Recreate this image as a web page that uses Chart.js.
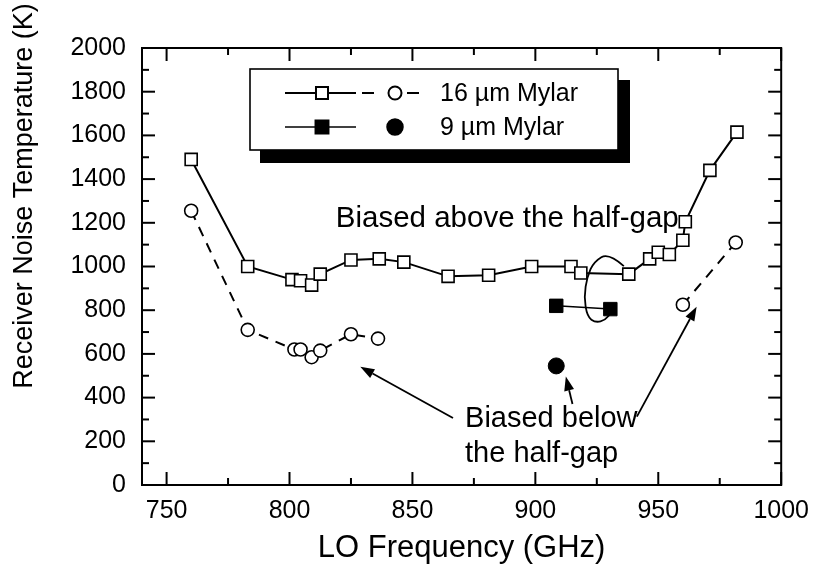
<!DOCTYPE html>
<html>
<head>
<meta charset="utf-8">
<script src="https://cdn.jsdelivr.net/npm/chart.js@4/dist/chart.umd.min.js"></script>
<style>
  html, body { margin: 0; padding: 0; background: #fff; }
  #wrap { width: 820px; height: 576px; }
</style>
</head>
<body>
<div id="wrap"><canvas id="noiseChart" width="820" height="576"></canvas></div>
<script>
// 16 um Mylar, biased above the half-gap (open squares)
const sqFreq16 = [760, 783, 801, 804.5, 809, 812.5, 825, 836.5, 846.5, 864.5, 881, 898.5, 914.5, 918.5, 938, 946.5, 950, 954.5, 960, 961, 971, 982];
const sqTemp16 = [1490, 1000, 940, 935, 915, 965, 1030, 1035, 1020, 955, 960, 1000, 1000, 970, 965, 1035, 1065, 1055, 1120, 1205, 1440, 1615];

// 16 um Mylar, biased below the half-gap (open circles), two separate runs
const circFreqLow = [760, 783, 802, 804.5, 809, 812.5, 825, 836];
const circTempLow = [1255, 710, 620, 620, 585, 615, 690, 670];
const circFreqHigh = [960, 981.5];
const circTempHigh = [825, 1110];

// 9 um Mylar
const sqFreq9 = [908.5, 930.5];
const sqTemp9 = [820, 805];
const circFreq9 = [908.5];
const circTemp9 = [545];

// axis ticks
const xTicks = [750, 800, 850, 900, 950, 1000];
const yTicks = [0, 200, 400, 600, 800, 1000, 1200, 1400, 1600, 1800, 2000];

// annotation anchors (data units)
const loopFreq = [936.0, 929.9, 923.8, 921.1, 919.8, 921.1, 924.5, 928.5, 930.8];
const loopTemp = [1002, 1063, 1022, 953, 862, 770, 743, 755, 789];
const arrowFrom = [[866.5, 307], [915.1, 371], [941.3, 313]];
const arrowTo = [[828.8, 541], [912.4, 496], [965.6, 816]];

const FONT = '"Liberation Sans", Arial, Helvetica, sans-serif';

const toPoints = (xs, ys) => xs.map((x, i) => ({ x, y: ys[i] }));

const openSquare = {
  pointStyle: 'rect', pointRadius: 8.5, pointBackgroundColor: '#fff',
  pointBorderColor: '#000', pointBorderWidth: 1.6,
};
const openCircle = {
  pointStyle: 'circle', pointRadius: 6.5, pointBackgroundColor: '#fff',
  pointBorderColor: '#000', pointBorderWidth: 1.6,
};

const midTicks = arr => arr.slice(1).map((v, i) => (v + arr[i]) / 2);

function drawArrow(ctx, x0, y0, x1, y1) {
  const ang = Math.atan2(y1 - y0, x1 - x0);
  const len = 14, half = 5;
  const bx = x1 - len * Math.cos(ang), by = y1 - len * Math.sin(ang);
  ctx.beginPath();
  ctx.moveTo(x0, y0);
  ctx.lineTo(bx, by);
  ctx.stroke();
  ctx.beginPath();
  ctx.moveTo(x1, y1);
  ctx.lineTo(bx + half * Math.sin(ang), by - half * Math.cos(ang));
  ctx.lineTo(bx - half * Math.sin(ang), by + half * Math.cos(ang));
  ctx.closePath();
  ctx.fill();
}

// text squeezed/stretched horizontally to a given width
function fitText(ctx, text, x0, y0, width) {
  const w = ctx.measureText(text).width;
  ctx.save();
  ctx.translate(x0, y0);
  ctx.scale(width / w, 1);
  ctx.fillText(text, 0, 0);
  ctx.restore();
}

const paperPlugin = {
  id: 'paper',
  beforeDatasetsDraw(chart) {
    const { ctx, chartArea: { left, right, top, bottom } } = chart;
    const { x, y } = chart.scales;
    ctx.save();
    ctx.strokeStyle = '#000';
    ctx.lineWidth = 2;
    ctx.strokeRect(left, top, right - left, bottom - top);

    const tick = (x0, y0, x1, y1) => {
      ctx.beginPath();
      ctx.moveTo(x0, y0);
      ctx.lineTo(x1, y1);
      ctx.stroke();
    };
    xTicks.forEach(v => {
      const px = x.getPixelForValue(v);
      tick(px, bottom, px, bottom - 13);
      tick(px, top, px, top + 13);
    });
    midTicks(xTicks).forEach(v => {
      const px = x.getPixelForValue(v);
      tick(px, bottom, px, bottom - 7);
      tick(px, top, px, top + 7);
    });
    yTicks.forEach(v => {
      const py = y.getPixelForValue(v);
      tick(left, py, left + 13, py);
      tick(right, py, right - 13, py);
    });
    midTicks(yTicks).forEach(v => {
      const py = y.getPixelForValue(v);
      tick(left, py, left + 7, py);
      tick(right, py, right - 7, py);
    });

    // axis titles
    ctx.fillStyle = '#000';
    ctx.textAlign = 'center';
    ctx.textBaseline = 'middle';
    ctx.font = `31px ${FONT}`;
    ctx.fillText('LO Frequency (GHz)', (left + right) / 2, 548);
    ctx.translate(25, 196);
    ctx.rotate(-Math.PI / 2);
    ctx.font = `27px ${FONT}`;
    ctx.fillText('Receiver Noise Temperature (K)', 0, 0);
    ctx.restore();
  },

  afterDatasetsDraw(chart) {
    const { ctx } = chart;
    const { x, y } = chart.scales;
    const px = f => x.getPixelForValue(f);
    const py = t => y.getPixelForValue(t);
    ctx.save();
    ctx.strokeStyle = '#000';
    ctx.fillStyle = '#000';

    // loop pointing the 9 um squares at the 16 um curve
    const pts = loopFreq.map((f, i) => [px(f), py(loopTemp[i])]);
    ctx.lineWidth = 1.8;
    ctx.beginPath();
    ctx.moveTo(pts[0][0], pts[0][1]);
    for (let i = 1; i < pts.length - 1; i++) {
      const mx = (pts[i][0] + pts[i + 1][0]) / 2;
      const my = (pts[i][1] + pts[i + 1][1]) / 2;
      ctx.quadraticCurveTo(pts[i][0], pts[i][1], mx, my);
    }
    ctx.lineTo(pts[pts.length - 1][0], pts[pts.length - 1][1]);
    ctx.stroke();

    // arrows
    ctx.lineWidth = 1.8;
    arrowFrom.forEach((a, i) => {
      drawArrow(ctx, px(a[0]), py(a[1]), px(arrowTo[i][0]), py(arrowTo[i][1]));
    });

    // labels
    ctx.textAlign = 'left';
    ctx.textBaseline = 'alphabetic';
    ctx.font = `29px ${FONT}`;
    fitText(ctx, 'Biased above the half-gap', px(818.8), py(1181), 343);
    ctx.fillText('Biased below', px(871.4), py(265));
    ctx.fillText('the half-gap', px(871.4), py(265) + 35);

    // legend box with drop shadow
    const bx = 250, by = 69, bw = 368, bh = 81;
    ctx.fillRect(bx + 10, by + 11, bw + 2, bh + 2);
    ctx.fillStyle = '#fff';
    ctx.fillRect(bx, by, bw, bh);
    ctx.lineWidth = 1.6;
    ctx.strokeRect(bx, by, bw, bh);

    const row1 = 93, row2 = 127;
    // row 1: open square solid, open circle dashed
    ctx.lineWidth = 2;
    ctx.beginPath();
    ctx.moveTo(285, row1); ctx.lineTo(356, row1);
    ctx.moveTo(362, row1); ctx.lineTo(374, row1);
    ctx.moveTo(407, row1); ctx.lineTo(419, row1);
    ctx.stroke();
    ctx.fillStyle = '#fff';
    Chart.helpers.drawPoint(ctx, { pointStyle: 'rect', radius: 8.5, rotation: 0, borderWidth: 1.6 }, 322, row1);
    Chart.helpers.drawPoint(ctx, { pointStyle: 'circle', radius: 6.5, rotation: 0, borderWidth: 1.6 }, 395, row1);
    // row 2: filled square solid, filled circle
    ctx.fillStyle = '#000';
    ctx.lineWidth = 1.5;
    ctx.beginPath();
    ctx.moveTo(285, row2); ctx.lineTo(356, row2);
    ctx.stroke();
    Chart.helpers.drawPoint(ctx, { pointStyle: 'rect', radius: 9.5, rotation: 0, borderWidth: 1 }, 322, row2);
    Chart.helpers.drawPoint(ctx, { pointStyle: 'circle', radius: 8, rotation: 0, borderWidth: 1 }, 395, row2);

    ctx.font = `25px ${FONT}`;
    ctx.textBaseline = 'middle';
    ctx.fillText('16 \u00b5m Mylar', 440, row1 + 1);
    ctx.fillText('9 \u00b5m Mylar', 440, row2 + 1);
    ctx.restore();
  },
};

const ctx = document.getElementById('noiseChart').getContext('2d');

new Chart(ctx, {
  type: 'scatter',
  data: {
    datasets: [
      {
        label: '16 \u00b5m Mylar above',
        data: toPoints(sqFreq16, sqTemp16),
        showLine: true, borderColor: '#000', borderWidth: 2,
        ...openSquare,
      },
      {
        label: '16 \u00b5m Mylar below',
        data: toPoints(circFreqLow, circTempLow),
        showLine: true, borderColor: '#000', borderWidth: 2, borderDash: [10, 8],
        ...openCircle,
      },
      {
        label: '16 \u00b5m Mylar below (high)',
        data: toPoints(circFreqHigh, circTempHigh),
        showLine: true, borderColor: '#000', borderWidth: 2, borderDash: [10, 8],
        ...openCircle,
      },
      {
        label: '9 \u00b5m Mylar above',
        data: toPoints(sqFreq9, sqTemp9),
        showLine: true, borderColor: '#000', borderWidth: 1.5,
        pointStyle: 'rect', pointRadius: 9.5, pointBackgroundColor: '#000',
        pointBorderColor: '#000', pointBorderWidth: 1,
      },
      {
        label: '9 \u00b5m Mylar below',
        data: toPoints(circFreq9, circTemp9),
        showLine: false,
        pointStyle: 'circle', pointRadius: 8, pointBackgroundColor: '#000',
        pointBorderColor: '#000', pointBorderWidth: 1,
      },
    ],
  },
  options: {
    responsive: false,
    devicePixelRatio: 1,
    animation: false,
    events: [],
    layout: { padding: { top: 48, right: 35, left: 0, bottom: 0 } },
    plugins: { legend: { display: false }, tooltip: { enabled: false } },
    scales: {
      x: {
        type: 'linear', min: 740, max: 1000,
        grid: { display: false, drawTicks: false }, border: { display: false },
        afterBuildTicks: scale => { scale.ticks = xTicks.map(v => ({ value: v })); },
        afterFit: scale => { scale.height = 91; },
        ticks: {
          color: '#000', padding: 11, maxRotation: 0,
          font: { family: FONT, size: 25 }, callback: v => String(v),
        },
      },
      y: {
        type: 'linear', min: 0, max: 2000,
        grid: { display: false, drawTicks: false }, border: { display: false },
        afterBuildTicks: scale => { scale.ticks = yTicks.map(v => ({ value: v })); },
        afterFit: scale => { scale.width = 142; },
        ticks: {
          color: '#000', padding: 16,
          font: { family: FONT, size: 25 }, callback: v => String(v),
        },
      },
    },
  },
  plugins: [paperPlugin],
});
</script>
</body>
</html>
